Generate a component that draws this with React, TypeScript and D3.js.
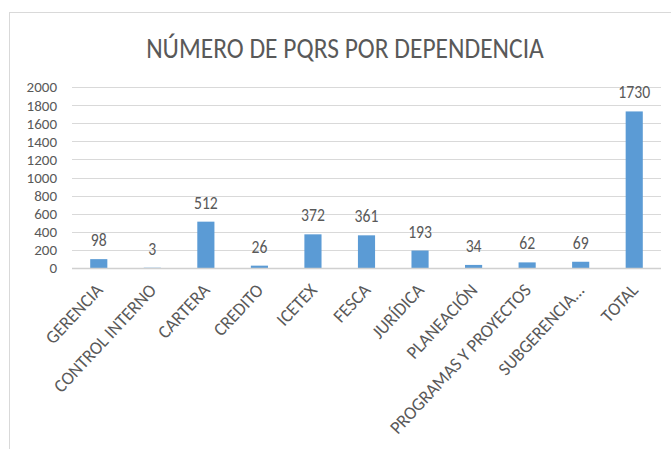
import React, { useRef, useEffect } from 'react';
import * as d3 from 'd3';

const categories = [
  'GERENCIA',
  'CONTROL INTERNO',
  'CARTERA',
  'CREDITO',
  'ICETEX',
  'FESCA',
  'JURÍDICA',
  'PLANEACIÓN',
  'PROGRAMAS Y PROYECTOS',
  'SUBGERENCIA...',
  'TOTAL',
];
const values = [98, 3, 512, 26, 372, 361, 193, 34, 62, 69, 1730];
const yTicks = [0, 200, 400, 600, 800, 1000, 1200, 1400, 1600, 1800, 2000];

const App: React.FC = () => {
  const ref = useRef<SVGSVGElement | null>(null);

  useEffect(() => {
    if (!ref.current) return;
    const svg = d3.select(ref.current);
    svg.selectAll('*').remove();

    const width = 671;
    const height = 449;
    const font = 'Calibri, Carlito, Lato, sans-serif';
    const textColor = '#595959';

    // Chart frame
    svg.append('rect')
      .attr('x', 9.5)
      .attr('y', 12.5)
      .attr('width', 700)
      .attr('height', 500)
      .attr('fill', '#fff')
      .attr('stroke', '#d9d9d9');

    // Title (slightly stretched vertically like the source image)
    svg.append('text')
      .attr('transform', 'translate(345,58) scale(1,1.1)')
      .attr('text-anchor', 'middle')
      .attr('font-family', font)
      .attr('font-size', 25.5)
      .attr('fill', textColor)
      .text('NÚMERO DE PQRS POR DEPENDENCIA');

    const x = d3.scaleBand()
      .domain(categories)
      .range([72, 661])
      .paddingInner(0.68)
      .paddingOuter(0.34);

    const y = d3.scaleLinear()
      .domain([0, 2000])
      .range([268, 87]);

    // Gridlines
    svg.append('g')
      .selectAll('line')
      .data(yTicks)
      .join('line')
      .attr('x1', 72)
      .attr('x2', 661)
      .attr('y1', d => Math.round(y(d)) + 0.5)
      .attr('y2', d => Math.round(y(d)) + 0.5)
      .attr('stroke', '#d9d9d9')
      .attr('stroke-width', 1);

    // Y tick labels
    svg.append('g')
      .selectAll('text')
      .data(yTicks)
      .join('text')
      .attr('x', 57)
      .attr('y', d => y(d))
      .attr('dy', '0.36em')
      .attr('text-anchor', 'end')
      .attr('font-family', font)
      .attr('font-size', 15)
      .attr('fill', textColor)
      .text(d => d);

    // Bars
    svg.append('g')
      .selectAll('rect')
      .data(values)
      .join('rect')
      .attr('x', (_, i) => x(categories[i]) || 0)
      .attr('y', d => y(d))
      .attr('width', x.bandwidth())
      .attr('height', d => y(0) - y(d))
      .attr('fill', '#5b9bd5');

    // Axis line
    svg.append('line')
      .attr('x1', 72)
      .attr('x2', 661)
      .attr('y1', Math.round(y(0)) + 0.5)
      .attr('y2', Math.round(y(0)) + 0.5)
      .attr('stroke', '#d0d0d0')
      .attr('stroke-width', 1.5);

    // Value labels
    svg.append('g')
      .selectAll('text')
      .data(values)
      .join('text')
      .attr('transform', (d, i) =>
        `translate(${(x(categories[i]) || 0) + x.bandwidth() / 2},${y(d) - 13}) scale(0.95,1.1)`)
      .attr('text-anchor', 'middle')
      .attr('font-family', font)
      .attr('font-size', 16.5)
      .attr('fill', textColor)
      .text(d => d);

    // Rotated category labels
    svg.append('g')
      .selectAll('text')
      .data(categories)
      .join('text')
      .attr('transform', d => {
        const cx = (x(d) || 0) + x.bandwidth() / 2 + 5;
        return `translate(${cx},291) rotate(-47) scale(1.08,1.12)`;
      })
      .attr('text-anchor', 'end')
      .attr('font-family', font)
      .attr('font-size', 16.5)
      .attr('fill', textColor)
      .text(d => d);

    svg.attr('width', width).attr('height', height);
  }, []);

  return (
    <div style={{ position: 'absolute', left: 0, top: 0 }}>
      <svg ref={ref} width={671} height={449} style={{ display: 'block' }} />
    </div>
  );
};

export default App;
